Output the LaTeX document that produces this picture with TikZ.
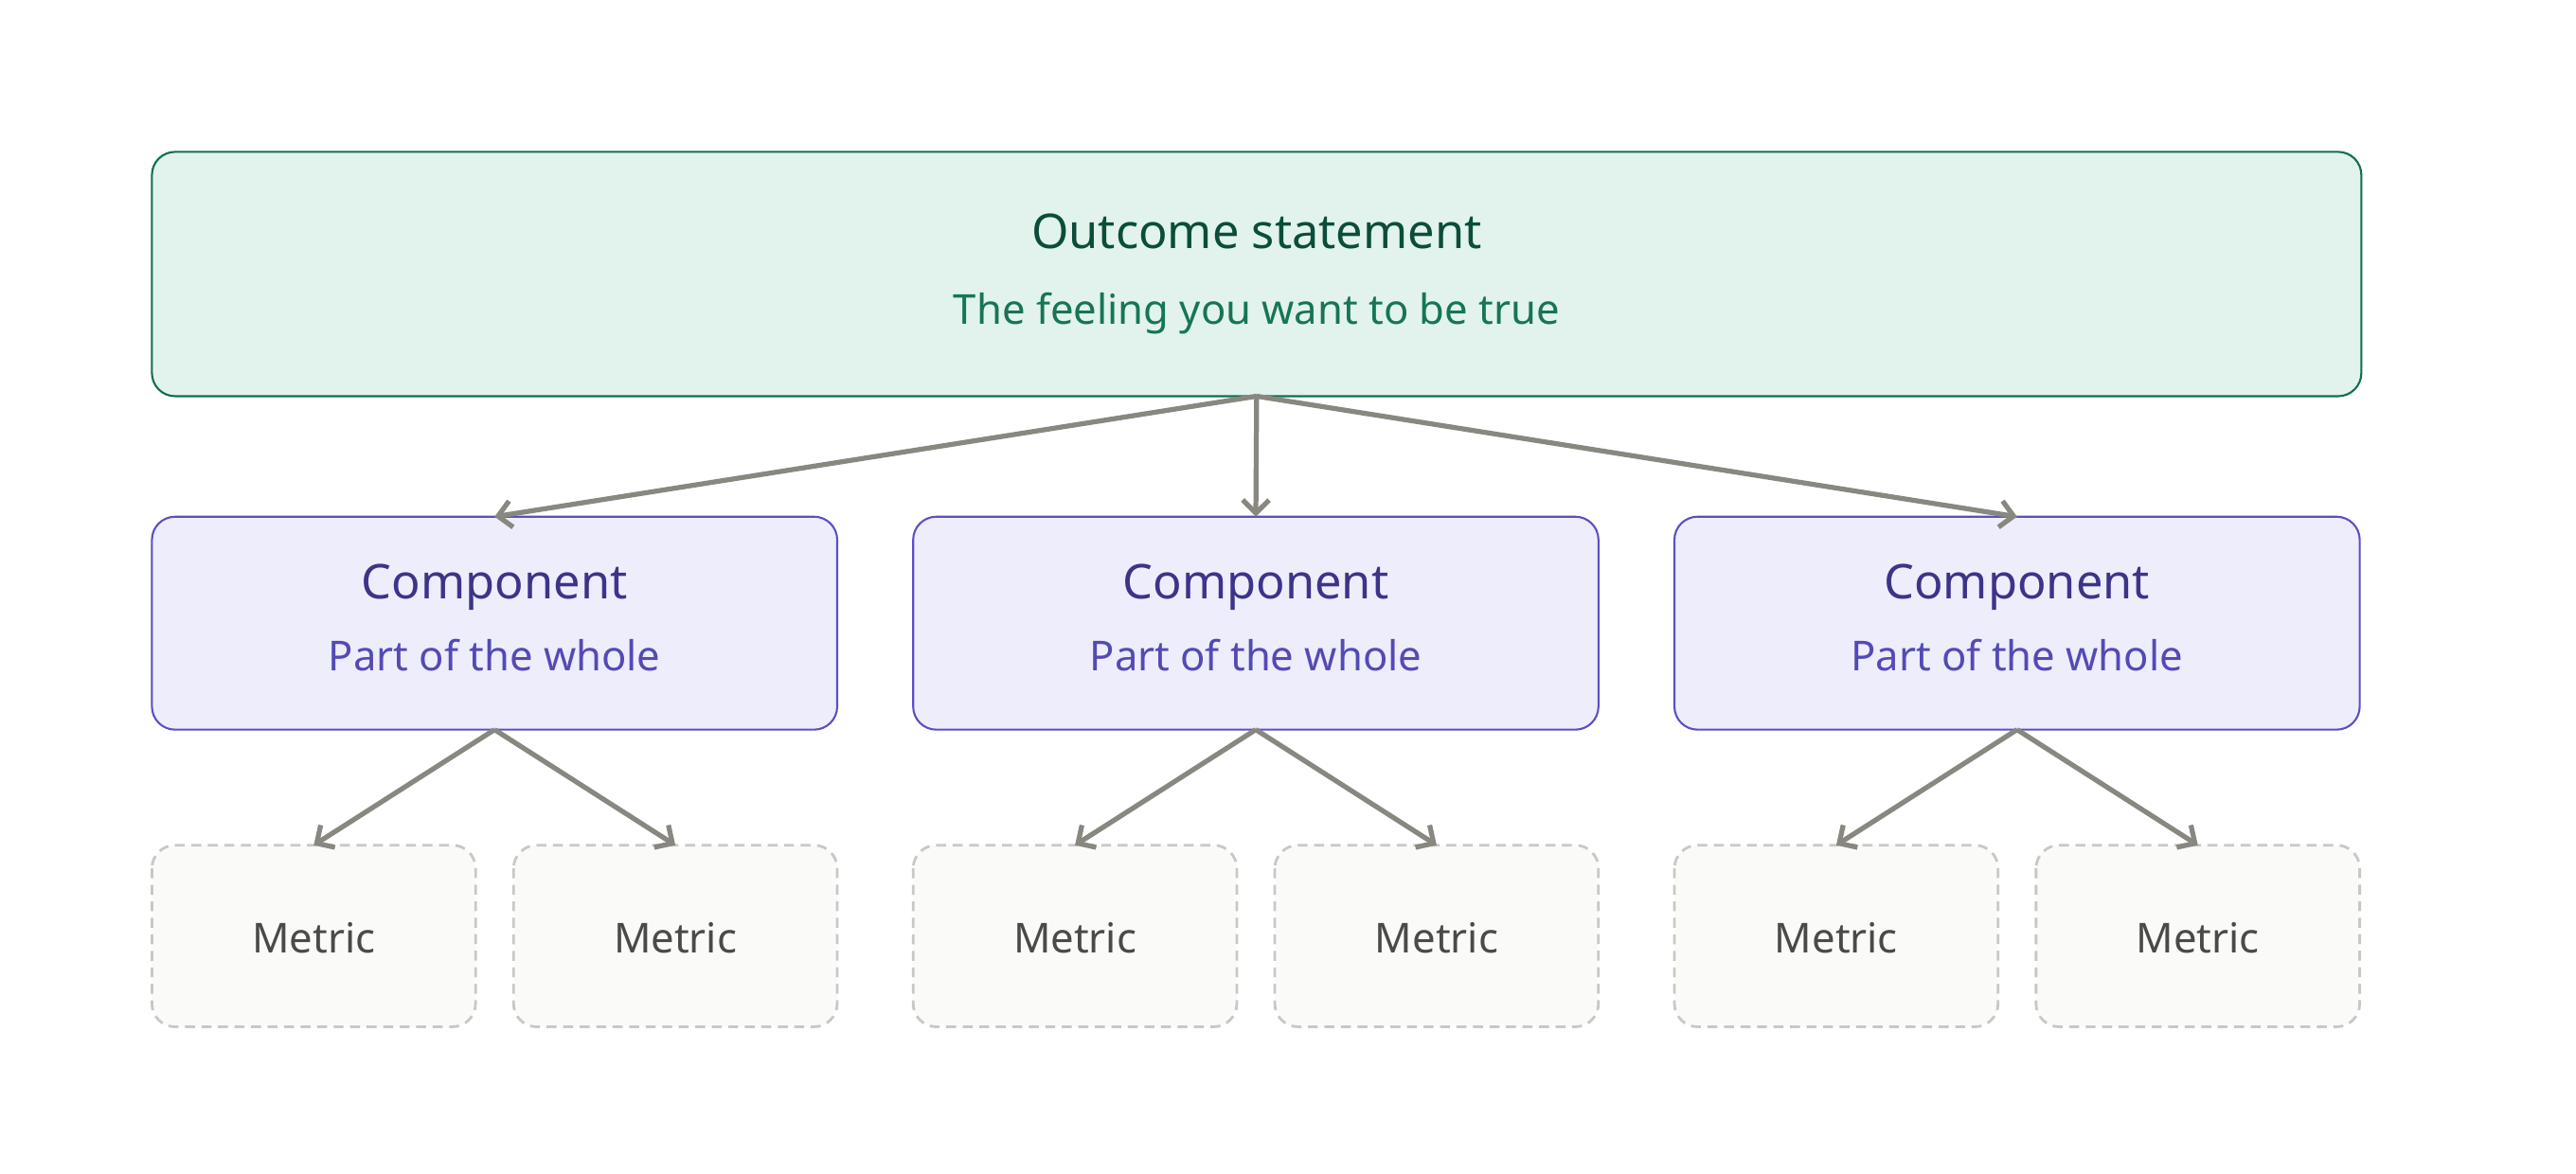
\documentclass[tikz,border=0pt]{standalone}
\usepackage{fontspec}
\setmainfont{Noto Sans}
\usetikzlibrary{arrows.meta}
\definecolor{ofill}{HTML}{E1F3EC}\definecolor{odraw}{HTML}{0F6E50}
\definecolor{otitle}{HTML}{0B4D3A}\definecolor{osub}{HTML}{167556}
\definecolor{cfill}{HTML}{EDEDFC}\definecolor{cdraw}{HTML}{5B4FC4}
\definecolor{ctitle}{HTML}{3C3489}\definecolor{csub}{HTML}{534AB7}
\definecolor{mfill}{HTML}{FAFAF8}\definecolor{mdraw}{HTML}{C8C8C4}
\definecolor{mtext}{HTML}{4A4A48}\definecolor{arr}{HTML}{888780}
\begin{document}
\begin{tikzpicture}[x=1pt,y=-1pt,
 outbox/.style={draw=odraw,fill=ofill,line width=1.2pt,rounded corners=14pt},
 compbox/.style={draw=cdraw,fill=cfill,line width=1.2pt,rounded corners=14pt},
 metbox/.style={draw=mdraw,fill=mfill,line width=1.6pt,dashed,dash pattern=on 6pt off 4pt,rounded corners=14pt},
 conn/.style={draw=arr,line width=3pt,-{Straight Barb[length=8pt,width=16pt]}}]
\useasboundingbox (0,0) rectangle (1560,711);
\draw[outbox] (92,92) rectangle (1430,240);
\node[font=\fontsize{29}{34}\selectfont\bfseries,text=otitle] (ot) at (761,140) {Outcome statement};
\node[font=\fontsize{25}{30}\selectfont,text=osub] (os) at (761,190) {The feeling you want to be true};
\coordinate (obot) at (761,240);
\foreach \i/\x in {1/92,2/553,3/1014}{
 \draw[compbox] (\x,313) rectangle ++(415,129);
 \coordinate (ctop\i) at (\x+207.5,313);
 \coordinate (cbot\i) at (\x+207.5,442);
 \node[font=\fontsize{29}{34}\selectfont\bfseries,text=ctitle] (ct\i) at (\x+207.5,356) {Component};
 \node[font=\fontsize{25}{30}\selectfont,text=csub] (cs\i) at (\x+207.5,397) {Part of the whole};
 \foreach \j/\dx in {a/0,b/219}{
  \draw[metbox] (\x+\dx,512) rectangle ++(196,110);
  \coordinate (mt\i\j) at (\x+\dx+98,512);
  \node[font=\fontsize{25}{30}\selectfont,text=mtext] (m\i\j) at (\x+\dx+98,568) {Metric};
  \draw[conn] (cbot\i) -- (mt\i\j);
 }
 \draw[conn] (obot) -- (ctop\i);
}
\end{tikzpicture}
\end{document}
